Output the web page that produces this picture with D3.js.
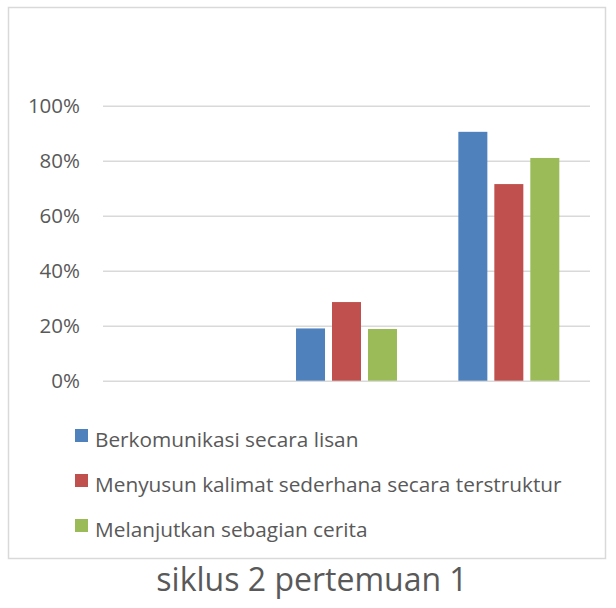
<!DOCTYPE html>
<html>
<head>
<meta charset="utf-8">
<script src="https://cdn.jsdelivr.net/npm/d3@7"></script>
<style>
html,body{margin:0;padding:0;background:#fff;}
svg{display:block;}
text{font-family:"Open Sans","Noto Sans",sans-serif;fill:#595959;}
</style>
</head>
<body>
<svg id="chart" width="616" height="608"></svg>
<script>
// ---- data ----
const categories = ["", " ", "  "];
const seriesNames = [
  "Berkomunikasi secara lisan",
  "Menyusun kalimat sederhana secara terstruktur",
  "Melanjutkan sebagian cerita"
];
const berkomunikasi = [0, 0.19, 0.905];
const menyusun = [0, 0.286, 0.715];
const melanjutkan = [0, 0.188, 0.81];
const yTicks = [0, 0.2, 0.4, 0.6, 0.8, 1.0];
const title = "siklus 2 pertemuan 1";
const colors = ["#4F81BD", "#C0504D", "#9BBB59"];

const seriesValues = [berkomunikasi, menyusun, melanjutkan];

const svg = d3.select("#chart");

// outer border
svg.append("rect")
  .attr("x", 8.5).attr("y", 7.5)
  .attr("width", 597).attr("height", 551)
  .attr("fill", "#fff").attr("stroke", "#D9D9D9").attr("stroke-width", 1.5);

const plot = {left: 103, right: 590, top: 105.7, bottom: 380.7};

const y = d3.scaleLinear().domain([0, 1]).range([plot.bottom, plot.top]);
const x0 = d3.scaleBand().domain(d3.range(categories.length))
  .range([plot.left, plot.right]).paddingInner(0.378).paddingOuter(0.189);
const x1 = d3.scaleBand().domain(d3.range(seriesNames.length))
  .range([0, x0.bandwidth()]).paddingInner(0.194).paddingOuter(0);

// gridlines + y labels via axis
const yAxis = d3.axisLeft(y).tickValues(yTicks)
  .tickFormat(d3.format(".0%"))
  .tickSize(-(plot.right - plot.left)).tickPadding(23);
const gy = svg.append("g").attr("transform", `translate(${plot.left},0)`).call(yAxis);
gy.select(".domain").remove();
gy.selectAll(".tick line").attr("stroke", "#D9D9D9").attr("stroke-width", 1.6);
gy.selectAll(".tick text").attr("fill", "#595959")
  .style("font-size", "20.5px").style("font-family", '"Open Sans","Noto Sans",sans-serif');

// bars
const groups = svg.append("g").selectAll("g")
  .data(categories.map((c, i) => i))
  .join("g")
  .attr("transform", i => `translate(${x0(i)},0)`);
groups.selectAll("rect")
  .data(i => seriesValues.map((vals, s) => ({s, v: vals[i]})))
  .join("rect")
  .attr("x", d => x1(d.s))
  .attr("width", x1.bandwidth())
  .attr("y", d => y(d.v))
  .attr("height", d => y(0) - y(d.v))
  .attr("fill", d => colors[d.s]);

// legend
const legend = svg.append("g").attr("transform", "translate(75,429)");
const li = legend.selectAll("g").data(seriesNames).join("g")
  .attr("transform", (d, i) => `translate(0,${i * 45})`);
li.append("rect").attr("width", 13).attr("height", 13)
  .attr("fill", (d, i) => colors[i]);
li.append("text").attr("x", 20).attr("y", 18)
  .style("font-size", "20.8px").text(d => d);

// title
svg.append("text").attr("x", 312).attr("y", 591)
  .attr("text-anchor", "middle").style("font-size", "32px").text(title);
</script>
</body>
</html>
